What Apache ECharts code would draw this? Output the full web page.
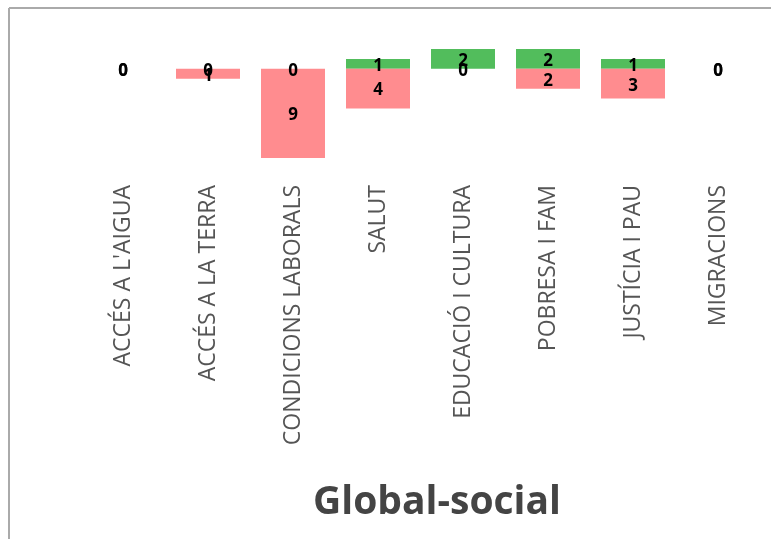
<!DOCTYPE html>
<html>
<head>
<meta charset="utf-8">
<script src="https://cdn.jsdelivr.net/npm/echarts@6/dist/echarts.min.js"></script>
<style>html,body{margin:0;padding:0;background:#fff;}#c{width:771px;height:539px;}</style>
</head>
<body>
<div id="c"></div>
<script>
const categories = ["ACCÉS A L'AIGUA", "ACCÉS A LA TERRA", "CONDICIONS LABORALS", "SALUT", "EDUCACIÓ I CULTURA", "POBRESA I FAM", "JUSTÍCIA I PAU", "MIGRACIONS"];
const positiveValues = [0, 0, 0, 1, 2, 2, 1, 0];
const negativeValues = [0, 1, 9, 4, 0, 2, 3, 0];
const titleText = "Global-social";

const chart = echarts.init(document.getElementById('c'));
const lbl = {
  show: true, position: 'inside', color: '#000', fontWeight: 'bold', fontSize: 17,
  fontFamily: 'Open Sans, sans-serif', offset: [0, 2],
  formatter: p => String(Math.abs(p.value))
};
chart.setOption({
  animation: false,
  backgroundColor: '#fff',
  title: {
    text: titleText, left: 432, top: 478, textAlign: 'center',
    textStyle: { fontFamily: 'Open Sans, sans-serif', fontWeight: 'bold', fontSize: 39, color: '#444' }
  },
  grid: { left: 80.5, right: 10.5, top: 49, bottom: 381 },
  xAxis: {
    type: 'category', data: categories,
    axisLine: { show: false }, axisTick: { show: false },
    axisLabel: { rotate: 90, margin: 27, fontSize: 23, color: '#555', fontFamily: 'Open Sans, sans-serif', interval: 0 }
  },
  yAxis: { type: 'value', min: -9, max: 2, show: false, splitLine: { show: false } },
  series: [
    { type: 'bar', name: 'pos', data: positiveValues, barWidth: 64, barGap: '-100%',
      itemStyle: { color: '#52bd5c' }, label: lbl },
    { type: 'bar', name: 'neg', data: negativeValues.map(v => -v), barWidth: 64, barGap: '-100%',
      itemStyle: { color: '#ff8c8f' }, label: lbl }
  ],
  graphic: [
    { type: 'line', shape: { x1: 9, y1: 8, x2: 771, y2: 8 }, style: { stroke: '#aaa', lineWidth: 2 } },
    { type: 'line', shape: { x1: 9, y1: 8, x2: 9, y2: 539 }, style: { stroke: '#aaa', lineWidth: 2 } }
  ]
});
</script>
</body>
</html>
